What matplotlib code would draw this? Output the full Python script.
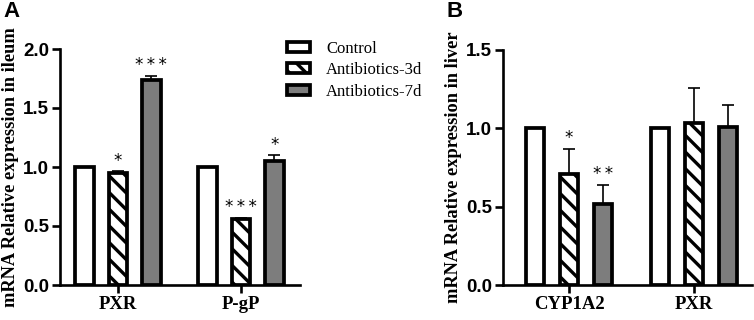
import matplotlib
matplotlib.use("Agg")
import matplotlib.pyplot as plt
from matplotlib.patches import Patch
import numpy as np

plt.rcParams['hatch.linewidth'] = 2.4

groups = ["Control", "Antibiotics-3d", "Antibiotics-7d"]

ileum_genes = ["PXR", "P-gP"]
ileum_control = [1.0, 1.0]
ileum_3d = [0.95, 0.56]
ileum_7d = [1.74, 1.05]
ileum_control_err = [0.0, 0.0]
ileum_3d_err = [0.015, 0.012]
ileum_7d_err = [0.035, 0.05]
ileum_stars = [["", "*", "***"], ["", "***", "*"]]

liver_genes = ["CYP1A2", "PXR"]
liver_control = [1.0, 1.0]
liver_3d = [0.71, 1.035]
liver_7d = [0.52, 1.01]
liver_control_err = [0.0, 0.0]
liver_3d_err = [0.16, 0.22]
liver_7d_err = [0.12, 0.14]
liver_stars = [["", "*", "**"], ["", "", ""]]

GRAY = "#7d7d7d"
styles = [dict(facecolor="white", hatch=None),
          dict(facecolor="white", hatch="\\\\"),
          dict(facecolor=GRAY, hatch=None)]

fig = plt.figure(figsize=(7.54, 3.2), dpi=100)

def panel(ax, genes, vals, errs, stars, ymax, ylabel, xlim):
    x = np.arange(len(genes))
    offs = [-0.272, 0.0, 0.272]
    w = 0.15
    for k in range(3):
        ax.bar(x + offs[k], vals[k], w, color=styles[k]["facecolor"],
               hatch=styles[k]["hatch"], edgecolor="black", linewidth=2.7, zorder=2)
        e = np.array(errs[k])
        ax.errorbar(x + offs[k], vals[k], yerr=[np.zeros_like(e), e], fmt="none",
                    ecolor="black", elinewidth=1.2, capsize=4, capthick=1.2, zorder=1)
        for i in range(len(genes)):
            s = stars[i][k]
            if s:
                ax.annotate("\u2009".join(s), (x[i] + offs[k], vals[k][i] + e[i]), xytext=(0, 1),
                            textcoords="offset points", ha="center", va="bottom",
                            fontsize=12, family="DejaVu Sans")
    ax.set_xlim(*xlim)
    ax.set_ylim(0, ymax)
    ticks = np.arange(0, ymax + 0.01, 0.5)
    ax.set_yticks(ticks)
    ax.set_yticklabels([f"{v:.1f}" for v in ticks],
                       fontsize=13.5, fontweight="bold", family="Liberation Sans")
    ax.set_xticks(x)
    ax.set_xticklabels(genes, fontsize=13.5, fontweight="bold", family="Liberation Serif")
    for sp in ["top", "right"]:
        ax.spines[sp].set_visible(False)
    for sp in ["left", "bottom"]:
        ax.spines[sp].set_linewidth(1.9)
    ax.tick_params(axis="both", direction="out", length=6, width=1.9, pad=2)
    ax.set_ylabel(ylabel, fontsize=13.2, fontweight="bold", family="Liberation Serif", labelpad=3)

axA = fig.add_axes([60/754, 1 - 285/320, 240/754, 236/320])
panel(axA, ileum_genes, [ileum_control, ileum_3d, ileum_7d],
      [ileum_control_err, ileum_3d_err, ileum_7d_err], ileum_stars, 2.0,
      "mRNA Relative expression in ileum", (-0.47, 1.48))

axB = fig.add_axes([503/754, 1 - 285/320, 249/754, 235/320])
panel(axB, liver_genes, [liver_control, liver_3d, liver_7d],
      [liver_control_err, liver_3d_err, liver_7d_err], liver_stars, 1.5,
      "mRNA Relative expression in liver", (-0.528, 1.464))

handles = [Patch(facecolor=styles[k]["facecolor"], hatch=styles[k]["hatch"],
                 edgecolor="black", linewidth=2.7, label=groups[k]) for k in range(3)]
fig.legend(handles=handles, loc="upper left", bbox_to_anchor=(287/754, 1 - 41/320),
           frameon=False, borderaxespad=0, borderpad=0, handlelength=1.4,
           handleheight=0.55, handletextpad=0.95, labelspacing=0.32,
           prop=dict(family="Liberation Serif", size=12))

fig.text(3/754, 1 - 1/320, "A", fontsize=16, fontweight="bold", family="Liberation Sans",
         ha="left", va="top")
fig.text(446/754, 1 - 1/320, "B", fontsize=16, fontweight="bold", family="Liberation Sans",
         ha="left", va="top")

fig.savefig("out.png", dpi=100)
